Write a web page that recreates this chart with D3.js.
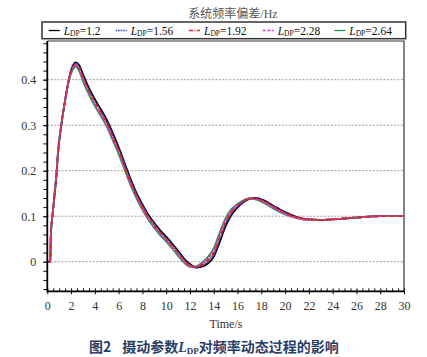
<!DOCTYPE html>
<html>
<head>
<meta charset="utf-8">
<script src="https://cdn.jsdelivr.net/npm/d3@7"></script>
<style>
  html, body { margin: 0; padding: 0; background: #fff; }
  svg { display: block; }
</style>
</head>
<body>
<svg id="chart" width="427" height="357"></svg>
<script>
// ---------------- data ----------------
const time = [0, 0.25, 0.3, 0.45, 0.6, 0.75, 0.9, 1.2, 1.5, 1.8, 2.1, 2.4, 2.7, 3.0,
  3.5, 4.0, 4.5, 5.0, 5.5, 6.0, 6.5, 7.0, 7.5, 8.0, 8.5, 9.0, 9.5, 10.0, 10.5, 11.0, 11.5, 12.0,
  12.5, 13.0, 13.5, 14.0, 14.5, 15.0, 15.5, 16.0, 16.5, 17.0, 17.5, 18.0, 18.5, 19.0, 19.5, 20.0,
  21.0, 22.0, 23.0, 24.0, 25.0, 26.0, 27.0, 28.0, 30.0];

const ldp120 = [0, 0, 0.06, 0.104, 0.144, 0.184, 0.238, 0.304, 0.355, 0.399, 0.428, 0.438, 0.431, 0.412,
  0.382, 0.357, 0.335, 0.312, 0.283, 0.252, 0.217, 0.182, 0.151, 0.126, 0.103, 0.085, 0.069, 0.055, 0.040, 0.024, 0.007, -0.005,
  -0.013, -0.011, -0.004, 0.011, 0.043, 0.078, 0.103, 0.119, 0.131, 0.138, 0.140, 0.137, 0.131, 0.123, 0.116, 0.109,
  0.098, 0.093, 0.092, 0.093, 0.095, 0.097, 0.099, 0.100, 0.100];

const ldp156 = [0, 0, 0.06, 0.105, 0.145, 0.185, 0.239, 0.305, 0.355, 0.399, 0.427, 0.436, 0.428, 0.408,
  0.378, 0.353, 0.331, 0.308, 0.279, 0.248, 0.213, 0.178, 0.148, 0.123, 0.100, 0.082, 0.066, 0.052, 0.037, 0.021, 0.005, -0.007,
  -0.013, -0.008, 0.000, 0.016, 0.049, 0.083, 0.107, 0.121, 0.132, 0.139, 0.140, 0.136, 0.130, 0.122, 0.115, 0.108,
  0.097, 0.093, 0.092, 0.093, 0.095, 0.097, 0.099, 0.100, 0.100];

const ldp192 = [0, 0, 0.06, 0.105, 0.145, 0.185, 0.240, 0.305, 0.355, 0.398, 0.425, 0.434, 0.425, 0.405,
  0.375, 0.350, 0.328, 0.305, 0.275, 0.245, 0.210, 0.175, 0.145, 0.120, 0.098, 0.080, 0.064, 0.050, 0.035, 0.019, 0.003, -0.008,
  -0.012, -0.006, 0.003, 0.020, 0.054, 0.088, 0.110, 0.123, 0.133, 0.139, 0.139, 0.135, 0.129, 0.121, 0.114, 0.107,
  0.097, 0.093, 0.092, 0.093, 0.095, 0.097, 0.099, 0.100, 0.100];

const ldp228 = [0, 0, 0.06, 0.105, 0.146, 0.186, 0.240, 0.305, 0.355, 0.397, 0.423, 0.432, 0.422, 0.401,
  0.371, 0.346, 0.324, 0.301, 0.271, 0.241, 0.206, 0.172, 0.142, 0.117, 0.095, 0.077, 0.061, 0.047, 0.032, 0.016, 0.000, -0.010,
  -0.011, -0.004, 0.007, 0.025, 0.059, 0.092, 0.113, 0.125, 0.134, 0.139, 0.138, 0.134, 0.127, 0.119, 0.112, 0.105,
  0.096, 0.092, 0.092, 0.093, 0.095, 0.097, 0.099, 0.100, 0.100];

const ldp264 = [0, 0, 0.06, 0.106, 0.147, 0.187, 0.241, 0.305, 0.354, 0.395, 0.420, 0.429, 0.418, 0.397,
  0.367, 0.342, 0.320, 0.297, 0.267, 0.237, 0.202, 0.168, 0.139, 0.114, 0.092, 0.074, 0.058, 0.044, 0.029, 0.013, -0.002, -0.011,
  -0.010, -0.002, 0.010, 0.030, 0.064, 0.096, 0.116, 0.127, 0.135, 0.139, 0.137, 0.132, 0.125, 0.117, 0.110, 0.104,
  0.096, 0.092, 0.092, 0.093, 0.095, 0.097, 0.099, 0.100, 0.100];

const seriesLabels = ["1.2", "1.56", "1.92", "2.28", "2.64"];
const seriesValues = [ldp120, ldp156, ldp192, ldp228, ldp264];

const xTickValues = [0, 2, 4, 6, 8, 10, 12, 14, 16, 18, 20, 22, 24, 26, 28, 30];
const yTickValues = [0, 0.1, 0.2, 0.3, 0.4];
const titleText = "系统频率偏差/Hz";
const xAxisTitle = "Time/s";

// ---------------- styles / layout ----------------
const colors = ["#000000", "#2a3fd6", "#e8202a", "#d63fc8", "#1f9a4a"];
const dashes = [null, "1.5,1", "4,1.5,1,1.5", "3,1.5", null];
const drawOrder = [0, 1, 4, 3, 2];
const legendTextX = [63.7, 130.7, 204, 277.7, 349.3];

const svg = d3.select("#chart");
const x = d3.scaleLinear().domain([0, 30]).range([47.3, 404]);
const y = d3.scaleLinear().domain([-0.065, 0.485]).range([291.3, 41]);
const serif = "'Liberation Serif', 'Times New Roman', serif";

// grid lines
svg.append("g").selectAll("line").data(yTickValues).join("line")
  .attr("x1", x(0)).attr("x2", x(30))
  .attr("y1", d => y(d)).attr("y2", d => y(d))
  .attr("stroke", "#9a9a9a").attr("stroke-width", 1)
  .attr("stroke-dasharray", "2,1.5");

// frame (top/right)
svg.append("path")
  .attr("d", `M${x(0)},${y(0.485)}H${x(30)}V${y(-0.065)}`)
  .attr("fill", "none").attr("stroke", "#333").attr("stroke-width", 1.2);

// curves
const line = d3.line()
  .x((d, i) => x(time[i]))
  .y(d => y(d))
  .curve(d3.curveMonotoneX);

const curves = svg.append("g");
drawOrder.forEach(k => {
  curves.append("path")
    .datum(seriesValues[k])
    .attr("d", line)
    .attr("fill", "none")
    .attr("stroke", colors[k])
    .attr("stroke-width", 1.8)
    .attr("stroke-linejoin", "round")
    .attr("stroke-dasharray", dashes[k]);
});

// y axis
const yMinor = d3.range(-6, 49, 2).map(v => v / 100);
svg.append("g").attr("transform", `translate(${x(0)},0)`)
  .call(d3.axisLeft(y).tickValues(yMinor).tickSize(4).tickFormat(""))
  .call(g => g.select(".domain").remove())
  .call(g => g.selectAll("line").attr("stroke", "#111").attr("stroke-width", 1));
svg.append("g").attr("transform", `translate(${x(0)},0)`)
  .call(d3.axisLeft(y).tickValues(yTickValues).tickSize(4).tickPadding(7)
    .tickFormat(d => d === 0 ? "0" : d3.format(".1f")(d)))
  .call(g => g.select(".domain").remove())
  .call(g => g.selectAll("line").attr("stroke", "#111"))
  .call(g => g.selectAll("text").attr("font-family", serif).attr("font-size", 12).attr("fill", "#333"));

// x axis
const xMinor = d3.range(0, 61).map(v => v / 2);
svg.append("g").attr("transform", `translate(0,${y(-0.065)})`)
  .call(d3.axisTop(x).tickValues(xMinor).tickSize(3).tickFormat(""))
  .call(g => g.select(".domain").remove())
  .call(g => g.selectAll("line").attr("stroke", "#111"));
svg.append("g").attr("transform", `translate(0,${y(-0.065)})`)
  .call(d3.axisBottom(x).tickValues(xTickValues).tickSize(3).tickPadding(7))
  .call(g => g.select(".domain").remove())
  .call(g => g.selectAll("line").attr("stroke", "#111"))
  .call(g => g.selectAll("text").attr("font-family", serif).attr("font-size", 12).attr("fill", "#333"));

// axis lines (left & bottom)
svg.append("path")
  .attr("d", `M${x(0)},${y(0.485)}V${y(-0.065)}H${x(30)}`)
  .attr("fill", "none").attr("stroke", "#000").attr("stroke-width", 1.8);

// x title
svg.append("text").attr("x", 226).attr("y", 327.5)
  .attr("text-anchor", "middle").attr("font-family", serif).attr("font-size", 12)
  .attr("fill", "#333").text(xAxisTitle);

// chart title
svg.append("text").attr("x", 233).attr("y", 17.5)
  .attr("text-anchor", "middle").attr("font-family", serif + ", 'Noto Sans CJK SC'")
  .attr("font-size", 12).attr("fill", "#555").text(titleText);

// legend
svg.append("rect").attr("x", 42).attr("y", 22).attr("width", 363.7).attr("height", 16.7)
  .attr("fill", "#fff").attr("stroke", "#333").attr("stroke-width", 1.5);
const leg = svg.append("g");
seriesLabels.forEach((lab, k) => {
  const tx = legendTextX[k];
  leg.append("line").attr("x1", tx - 15).attr("x2", tx - 4)
    .attr("y1", 30.5).attr("y2", 30.5)
    .attr("stroke", colors[k]).attr("stroke-width", 1.3)
    .attr("stroke-dasharray", dashes[k]);
  const t = leg.append("text").attr("x", tx).attr("y", 34.5)
    .attr("font-family", serif).attr("font-size", 11.5).attr("fill", "#111");
  t.append("tspan").attr("font-style", "italic").text("L");
  t.append("tspan").attr("font-size", 7.5).attr("dy", 1.5).text("DP");
  t.append("tspan").attr("dy", -1.5).text("=" + lab);
});

// caption
const cap = svg.append("text").attr("x", 89).attr("y", 352)
  .attr("font-family", "'Noto Sans CJK SC', sans-serif").attr("font-size", 14)
  .attr("font-weight", "bold").attr("fill", "#2a3d66");
cap.append("tspan").text("图2");
cap.append("tspan").attr("dx", 11).text("摄动参数");
cap.append("tspan").attr("font-family", serif).attr("font-style", "italic").text("L");
cap.append("tspan").attr("font-family", serif).attr("font-size", 9).attr("dy", 2).text("DP");
cap.append("tspan").attr("dy", -2).text("对频率动态过程的影响");
</script>
</body>
</html>
